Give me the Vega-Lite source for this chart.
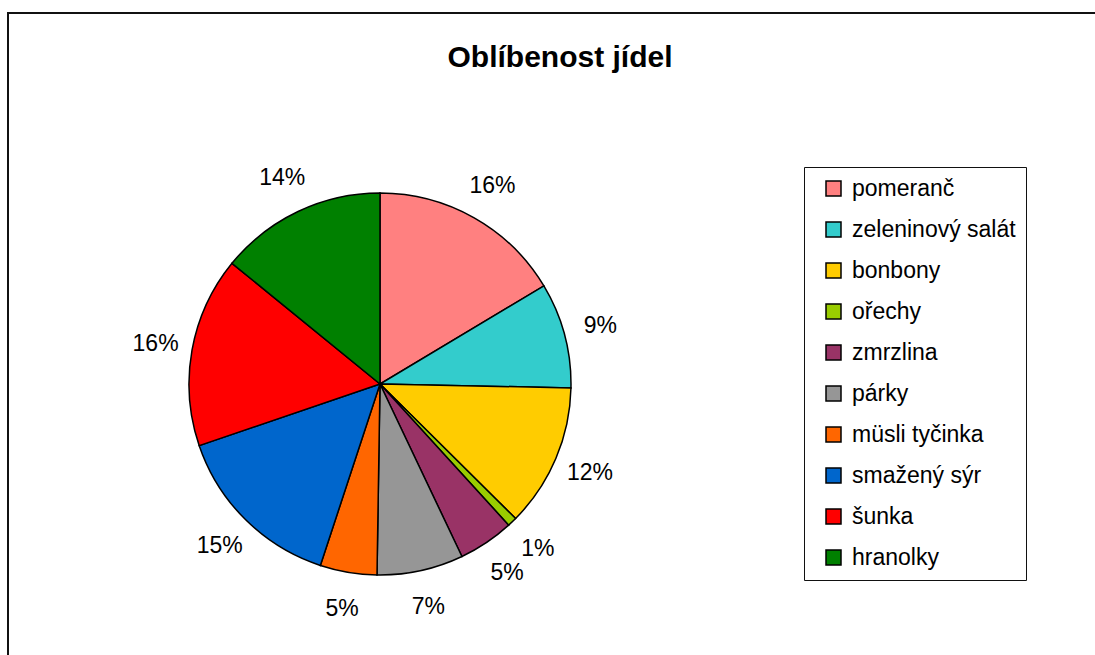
{
  "$schema": "https://vega.github.io/schema/vega-lite/v6.json",
  "width": 1100,
  "height": 660,
  "autosize": {"type": "none"},
  "padding": {"left": 8, "top": 13, "right": 0, "bottom": 0},
  "background": "white",
  "title": {
    "text": "Oblíbenost jídel",
    "font": "Liberation Sans",
    "fontSize": 30,
    "fontWeight": "bold",
    "color": "black",
    "anchor": "middle",
    "baseline": "alphabetic",
    "offset": -54,
    "dx": 2,
    "dy": 31
  },
  "config": {
    "view": {"stroke": null},
    "font": "Liberation Sans"
  },
  "datasets": {
    "jidla": [
      {"jidlo": "pomeranč", "podil": 0.164, "poradi": 1},
      {"jidlo": "zeleninový salát", "podil": 0.089, "poradi": 2},
      {"jidlo": "bonbony", "podil": 0.121, "poradi": 3},
      {"jidlo": "ořechy", "podil": 0.008, "poradi": 4},
      {"jidlo": "zmrzlina", "podil": 0.047, "poradi": 5},
      {"jidlo": "párky", "podil": 0.073, "poradi": 6},
      {"jidlo": "müsli tyčinka", "podil": 0.048, "poradi": 7},
      {"jidlo": "smažený sýr", "podil": 0.147, "poradi": 8},
      {"jidlo": "šunka", "podil": 0.161, "poradi": 9},
      {"jidlo": "hranolky", "podil": 0.141, "poradi": 10}
    ],
    "ramec": [{"prvek": "rámeček"}]
  },
  "layer": [
    {
      "data": {"name": "ramec"},
      "mark": {"type": "rect", "fill": null, "stroke": "#111", "strokeWidth": 2},
      "encoding": {}
    },
    {
      "data": {"name": "jidla"},
      "mark": {"type": "arc", "outerRadius": 191, "stroke": "black", "strokeWidth": 1.5, "xOffset": -178, "yOffset": 41},
      "encoding": {
        "theta": {"field": "podil", "type": "quantitative", "stack": true},
        "order": {"field": "poradi", "type": "quantitative"},
        "color": {
          "field": "jidlo",
          "type": "nominal",
          "sort": null,
          "scale": {
            "domain": ["pomeranč", "zeleninový salát", "bonbony", "ořechy", "zmrzlina", "párky", "müsli tyčinka", "smažený sýr", "šunka", "hranolky"],
            "range": ["#FF8080", "#33CCCC", "#FFCC00", "#99CC00", "#993366", "#969696", "#FF6600", "#0066CC", "#FF0000", "#008000"]
          },
          "legend": {
            "title": null,
            "orient": "none",
            "legendX": 796,
            "legendY": 154,
            "symbolType": "square",
            "symbolSize": 225,
            "symbolStrokeColor": "black",
            "symbolStrokeWidth": 1.5,
            "symbolOffset": 8,
            "labelFont": "Liberation Sans",
            "labelFontSize": 23,
            "labelColor": "black",
            "labelOffset": 7,
            "labelLimit": 300,
            "rowPadding": 17,
            "padding": 10,
            "strokeColor": "#111",
            "fillColor": "white"
          }
        }
      }
    },
    {
      "data": {"name": "jidla"},
      "mark": {"type": "text", "radius": 228, "fontSize": 23, "font": "Liberation Sans", "color": "black", "align": "center", "baseline": "middle", "xOffset": -178, "yOffset": 41},
      "encoding": {
        "theta": {"field": "podil", "type": "quantitative", "stack": true},
        "order": {"field": "poradi", "type": "quantitative"},
        "text": {"field": "podil", "type": "quantitative", "format": ".0%"}
      }
    }
  ]
}
